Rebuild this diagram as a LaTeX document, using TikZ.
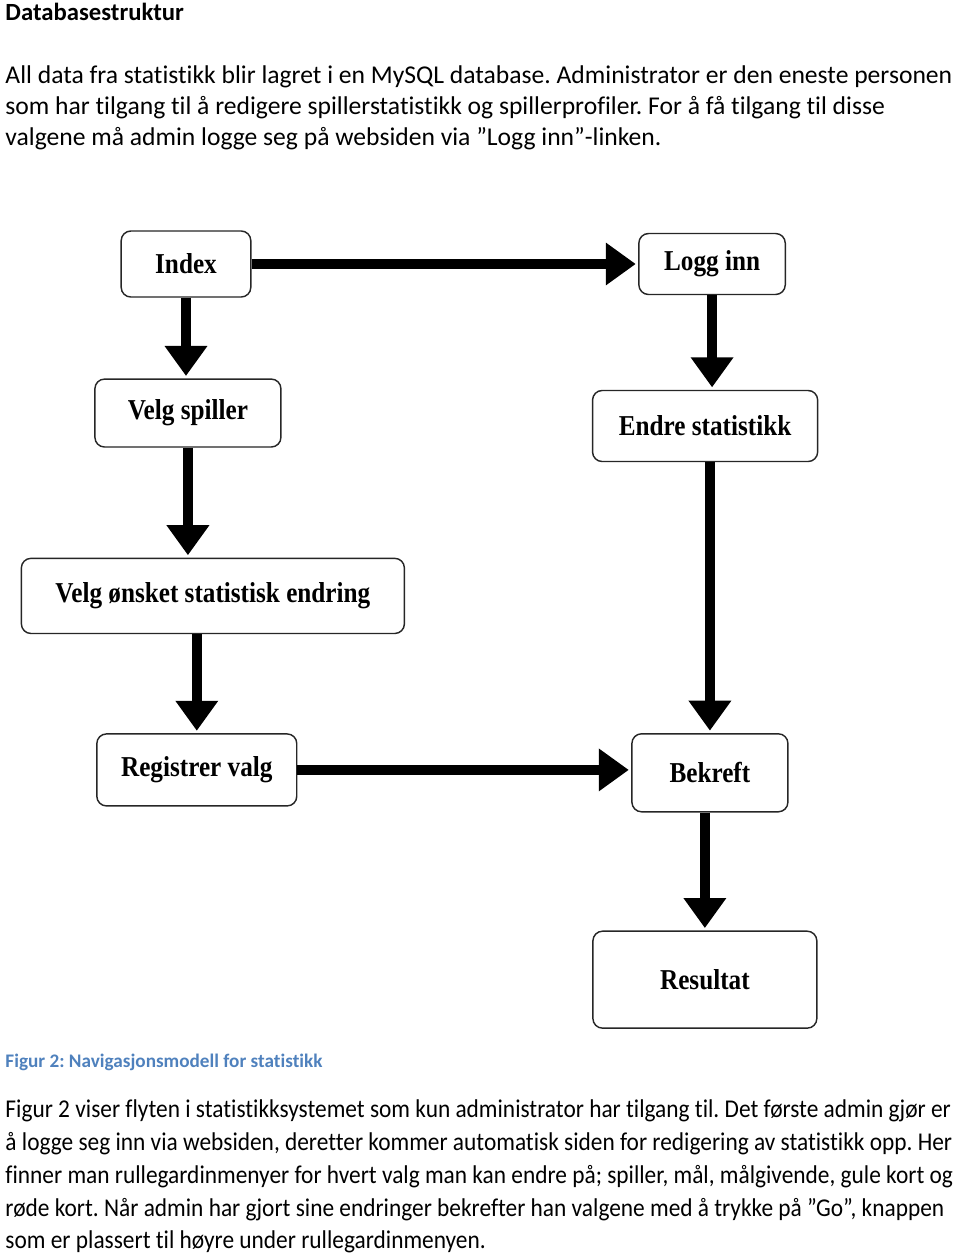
\documentclass[tikz,border=0pt]{standalone}
\usepackage{fontspec}
\setmainfont[Ligatures=NoCommon]{Carlito}
\newfontfamily\narrowfont[Ligatures=NoCommon, FakeStretch=0.912]{Carlito}
\newfontfamily\boxfont[FakeStretch=0.875]{Liberation Serif}
\usetikzlibrary{arrows.meta,positioning}
\definecolor{captionblue}{RGB}{79,129,189}
\frenchspacing
\tikzset{
    screen/.style = {rounded corners=4pt, rectangle, fill=white, draw=black!85, line width=0.6pt, text=black,
                     font=\boxfont\bfseries\fontsize{12}{13}\selectfont, inner sep=0pt},
    flow/.style = {-{Triangle[length=12.5pt,width=17pt]}, line width=4.2pt, shorten >=1pt},
    textline/.style = {anchor=base west, inner sep=0pt, font=\fontsize{10.67}{13}\selectfont},
    narrowline/.style = {textline, font=\narrowfont\fontsize{10.67}{13}\selectfont}
}

\begin{document}
\begin{tikzpicture}[x=0.41667pt, y=-0.41667pt]
        \useasboundingbox (0,0) rectangle (960,1253);

        %% Text above
        \node[textline, font=\bfseries\fontsize{10.3}{13}\selectfont] (title) at (5,20) {Databasestruktur};
        \node[textline] (p11) at (5,83) {All data fra statistikk blir lagret i en MySQL database. Administrator er den eneste personen};
        \node[textline] (p12) at (5,114) {som har tilgang til å redigere spillerstatistikk og spillerprofiler. For å få tilgang til disse};
        \node[textline] (p13) at (5,145) {valgene må admin logge seg på websiden via ”Logg inn”-linken.};

        %% Left column
        \node[screen, minimum width=54pt, minimum height=27.5pt]  (index) at (186,264)   {Index};
        \node[screen, minimum width=77.5pt, minimum height=28.3pt] (velg) [below of=index, node distance=62.1pt, xshift=0.8pt] {Velg spiller};
        \node[screen, minimum width=159.6pt, minimum height=31.3pt] (onsket) [below of=velg, node distance=76.2pt, xshift=10.4pt] {Velg ønsket statistisk endring};
        \node[screen, minimum width=83.3pt, minimum height=30pt] (registrer) [below of=onsket, node distance=72.5pt, xshift=-6.7pt] {Registrer valg};

        %% Right column
        \node[screen, minimum width=61pt, minimum height=25.4pt]  (logg) [right of=index, node distance=219.2pt] {Logg inn};
        \node[screen, minimum width=93.8pt, minimum height=29.6pt] (endre) [below of=logg, node distance=67.5pt, xshift=-2.9pt] {Endre statistikk};
        \node[screen, minimum width=65pt, minimum height=32.5pt]  (bekreft) [right of=registrer, node distance=213.8pt, yshift=-1.2pt] {Bekreft};
        \node[screen, minimum width=93.3pt, minimum height=40.4pt] (resultat) [below of=bekreft, node distance=86.2pt, xshift=-2.1pt] {Resultat};

        \path   (index.east) edge [flow]   (index.east -| logg.west)
                (index.south) edge [flow]  (index.south |- velg.north)
                (velg.south) edge [flow]   (velg.south |- onsket.north)
                (registrer.north |- onsket.south) edge [flow] (registrer.north)
                (registrer.east) edge [flow] (registrer.east -| bekreft.west);

        \path   (logg.south) edge [flow]   (logg.south |- endre.north)
                (bekreft.north |- endre.south) edge [flow] (bekreft.north)
                (resultat.north |- bekreft.south) edge [flow] (resultat.north);

        %% Caption and text below
        \node[textline, text=captionblue, font=\bfseries\fontsize{8}{10}\selectfont] (caption) at (5,1067) {Figur 2: Navigasjonsmodell for statistikk};
        \node[narrowline] (p21) at (5,1117) {Figur 2 viser flyten i statistikksystemet som kun administrator har tilgang til. Det første admin gjør er};
        \node[narrowline] (p22) at (5,1150) {å logge seg inn via websiden, deretter kommer automatisk siden for redigering av statistikk opp. Her};
        \node[narrowline] (p23) at (5,1183) {finner man rullegardinmenyer for hvert valg man kan endre på; spiller, mål, målgivende, gule kort og};
        \node[narrowline] (p24) at (5,1216) {røde kort. Når admin har gjort sine endringer bekrefter han valgene med å trykke på ”Go”, knappen};
        \node[narrowline] (p25) at (5,1248) {som er plassert til høyre under rullegardinmenyen.};
\end{tikzpicture}
\end{document}
